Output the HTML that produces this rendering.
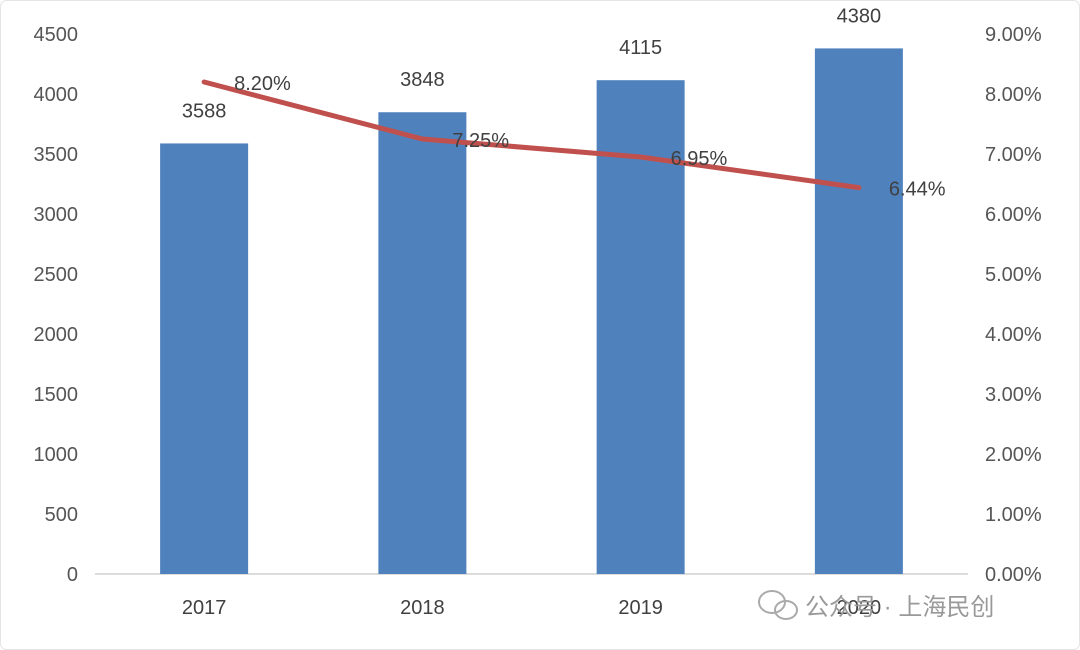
<!DOCTYPE html>
<html><head><meta charset="utf-8"><style>
body{margin:0;background:#fff;}
svg{display:block;font-family:"Liberation Sans","Noto Sans CJK SC",sans-serif;}
</style></head><body>
<svg id="chart" width="1080" height="650" viewBox="0 0 1080 650">
<rect x="0.5" y="0.5" width="1079" height="649" rx="6" fill="#fff" stroke="#e4e4e4"/>
<g id="g"></g>
<g>
<ellipse cx="772" cy="602" rx="13" ry="11" fill="none" stroke="#aaa" stroke-width="2"/>
<ellipse cx="786" cy="610" rx="11" ry="9" fill="none" stroke="#aaa" stroke-width="2"/>
<text x="805" y="615" font-size="24" fill="#999">公众号 · 上海民创</text>
</g>
</svg>
<script>
const categories=["2017","2018","2019","2020"];
const values=[3588,3848,4115,4380];
const rates=[8.20,7.25,6.95,6.44];
const leftTicks=[0,500,1000,1500,2000,2500,3000,3500,4000,4500];
const rightTicks=[0,1,2,3,4,5,6,7,8,9];
const NS="http://www.w3.org/2000/svg";
const g=document.getElementById('g');
const x0=95,x1=968,y0=574,y1=34;
const band=(x1-x0)/categories.length;
const xc=i=>x0+band*(i+0.5);
const yL=v=>y0-(v/4500)*(y0-y1);
const yR=v=>y0-(v/9)*(y0-y1);
function mk(t,a,txt){const e=document.createElementNS(NS,t);for(const k in a)e.setAttribute(k,a[k]);if(txt!=null)e.textContent=txt;g.appendChild(e);return e;}
leftTicks.forEach(t=>{const e=mk('text',{x:78,y:yL(t)+7,'text-anchor':'end','font-size':20,fill:'#555'},String(t));

});
rightTicks.forEach(t=>{const e=mk('text',{x:985,y:yR(t)+7,'font-size':20,fill:'#555'},t.toFixed(2)+'%');

});
const ax=mk('line',{x1:x0,x2:x1,y1:y0,y2:y0,stroke:'#d0d0d0','stroke-width':1.5});


const bw=88;
categories.forEach((c,i)=>{
const b=mk('rect',{x:xc(i)-bw/2,y:yL(values[i]),width:bw,height:y0-yL(values[i]),fill:'#4f81bd'});


const l=mk('text',{x:xc(i),y:yL(values[i])-26,'text-anchor':'middle','font-size':20,fill:'#404040'},String(values[i]));


const xl=mk('text',{x:xc(i),y:614,'text-anchor':'middle','font-size':20,fill:'#404040'},c);


});
const pl=mk('polyline',{points:rates.map((r,i)=>xc(i)+','+yR(r)).join(' '),fill:'none',stroke:'#c0504d','stroke-width':5,'stroke-linejoin':'round','stroke-linecap':'round'});


rates.forEach((r,i)=>{
const t=mk('text',{x:xc(i)+30,y:yR(r)+8,'font-size':20,fill:'#404040'},r.toFixed(2)+'%');


});
</script>
</body></html>
